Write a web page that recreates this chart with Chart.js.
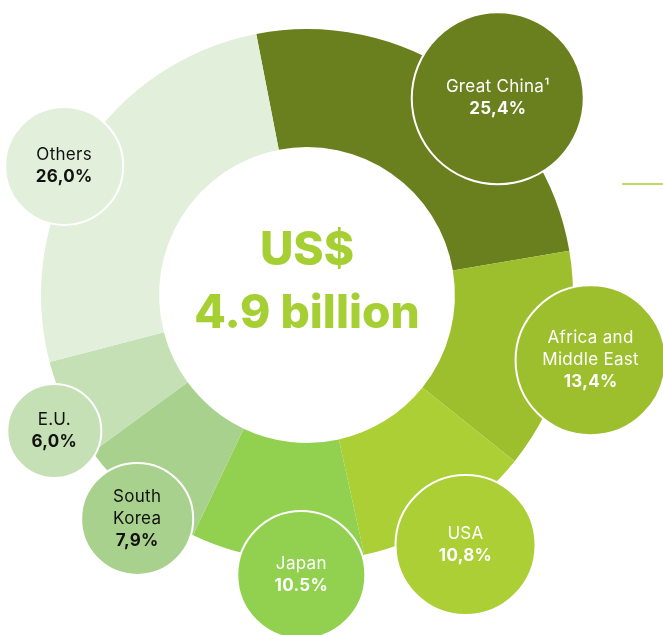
<!DOCTYPE html>
<html>
<head>
  <title>Revenue by Region</title>
  <script src="https://cdn.jsdelivr.net/npm/chart.js"></script>
  <style>
    body { margin: 0; background: #fff; overflow: hidden; }
  </style>
</head>
<body>
  <canvas id="myChart" width="663" height="635"></canvas>
  <script>
    // revenue split by region, in percent
    const regions = ['Great China', 'Africa and Middle East', 'USA', 'Japan', 'South Korea', 'E.U.', 'Others'];
    const shares = [25.4, 13.4, 10.8, 10.5, 7.9, 6.0, 26.0];
    const shareLabels = ['25,4%', '13,4%', '10,8%', '10.5%', '7,9%', '6,0%', '26,0%'];
    const bubbleNames = [['Great China\u00b9'], ['Africa and', 'Middle East'], ['USA'], ['Japan'], ['South', 'Korea'], ['E.U.'], ['Others']];
    const totalLines = ['US$', '4.9 billion'];

    const colors = ['#6a7f1e', '#9dbf2e', '#abcf35', '#92d050', '#a9d18e', '#c5e0b4', '#e2efda'];
    const textColors = ['#fff', '#fff', '#fff', '#fff', '#111', '#111', '#111'];
    // bubble placement: angle shift from slice middle (deg), distance from centre, radius
    const bubbleShift = [9.4, -1.6, -0.5, -5.3, -2.4, -2.9, -4.2];
    const bubbleDist = [274, 291, 296, 280, 281, 287, 275];
    const bubbleSize = [86, 75, 70, 64, 56, 47, 59];

    const bubbles = {
      id: 'bubbles',
      afterDatasetsDraw(chart) {
        const c = chart.ctx;
        const arcs = chart.getDatasetMeta(0).data;
        const cx = arcs[0].x, cy = arcs[0].y;

        arcs.forEach((arc, i) => {
          const mid = (arc.startAngle + arc.endAngle) / 2 + bubbleShift[i] * Math.PI / 180;
          const bx = cx + Math.cos(mid) * bubbleDist[i];
          const by = cy + Math.sin(mid) * bubbleDist[i];

          c.save();
          c.beginPath();
          c.arc(bx, by, bubbleSize[i], 0, Math.PI * 2);
          c.fillStyle = colors[i];
          c.fill();
          c.lineWidth = 2;
          c.strokeStyle = '#fff';
          c.stroke();

          const lines = bubbleNames[i].concat([shareLabels[i]]);
          const step = 22;
          let y = by - (lines.length - 1) * step / 2;
          c.fillStyle = textColors[i];
          c.textAlign = 'center';
          c.textBaseline = 'middle';
          c.letterSpacing = '0.3px';
          lines.forEach((t, k) => {
            c.font = (k === lines.length - 1 ? '700 17px' : '400 17px') + ' Inter, sans-serif';
            c.fillText(t, bx, y);
            y += step;
          });
          c.restore();
        });

        // total in the hole
        c.save();
        c.fillStyle = '#a6cf33';
        c.textAlign = 'center';
        c.textBaseline = 'alphabetic';
        c.font = '800 46px Inter, sans-serif';
        c.fillText(totalLines[0], cx, cy - 30);
        c.fillText(totalLines[1], cx, cy + 33);

        // short rule at the right edge
        c.strokeStyle = '#a6d22e';
        c.lineWidth = 1.5;
        c.beginPath();
        c.moveTo(622, 184);
        c.lineTo(663, 184);
        c.stroke();
        c.restore();
      }
    };

    new Chart(document.getElementById('myChart'), {
      type: 'doughnut',
      data: {
        labels: regions,
        datasets: [{
          data: shares,
          backgroundColor: colors,
          borderWidth: 0
        }]
      },
      options: {
        responsive: false,
        animation: false,
        rotation: -11,
        cutout: '55.6%',
        layout: { padding: { left: 41, top: 29, right: 90, bottom: 74 } },
        plugins: {
          legend: { display: false },
          tooltip: { enabled: false }
        }
      },
      plugins: [bubbles]
    });
  </script>
</body>
</html>
